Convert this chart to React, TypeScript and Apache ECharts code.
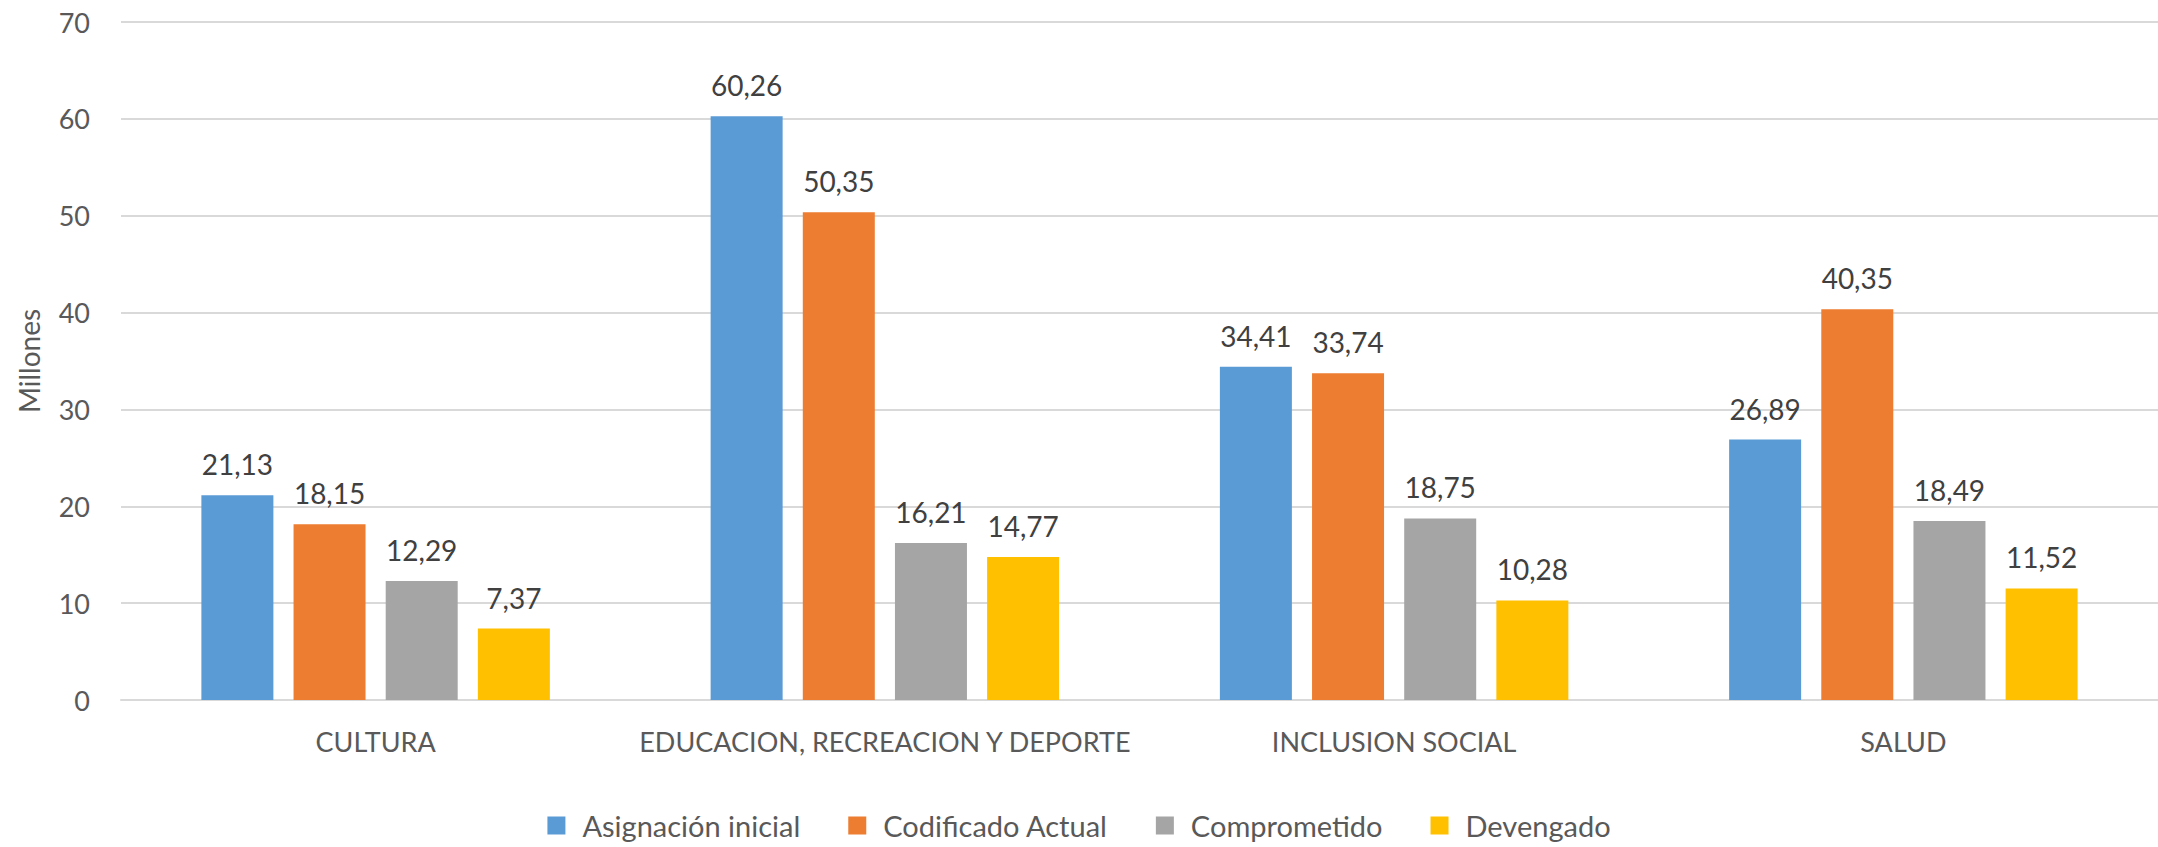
import React, { useEffect, useRef } from "react";
import * as echarts from "echarts";

const categories = ["CULTURA", "EDUCACION, RECREACION Y DEPORTE", "INCLUSION SOCIAL", "SALUD"];
const seriesNames = ["Asignación inicial", "Codificado Actual", "Comprometido", "Devengado"];
const asignacion = [21.13, 60.26, 34.41, 26.89];
const codificado = [18.15, 50.35, 33.74, 40.35];
const comprometido = [12.29, 16.21, 18.75, 18.49];
const devengado = [7.37, 14.77, 10.28, 11.52];
const colors = ["#5B9BD5", "#ED7D31", "#A5A5A5", "#FFC000"];

const FONT = "Lato";

export default function App() {
  const ref = useRef<HTMLDivElement>(null);
  useEffect(() => {
    document.body.style.margin = "0";
    if (!ref.current) return;
    const chart = echarts.init(ref.current, null, { renderer: "svg" });
    const values = [asignacion, codificado, comprometido, devengado];
    chart.setOption({
      animation: false,
      textStyle: { fontFamily: FONT },
      grid: { left: 121, right: 0, top: 22, bottom: 147, containLabel: false },
      legend: {
        data: seriesNames,
        top: 811,
        left: "center",
        padding: 0,
        itemWidth: 18,
        itemHeight: 18,
        itemGap: 48,
        icon: "rect",
        textStyle: { fontFamily: FONT, fontSize: 29, lineHeight: 28, color: "#595959", padding: [0, 0, 0, 12] },
      },
      xAxis: {
        type: "category",
        data: categories,
        axisLine: { show: true, lineStyle: { color: "#D9D9D9", width: 2 } },
        axisTick: { show: false },
        axisLabel: { fontFamily: FONT, fontSize: 27, color: "#595959", margin: 28, interval: 0 },
      },
      yAxis: {
        type: "value",
        min: 0,
        max: 70,
        interval: 10,
        name: "Millones",
        nameLocation: "middle",
        nameGap: 78,
        nameTextStyle: { fontFamily: FONT, fontSize: 28, color: "#595959" },
        axisLine: { show: false },
        axisTick: { show: false },
        splitLine: { lineStyle: { color: "#D9D9D9", width: 2 } },
        axisLabel: { fontFamily: FONT, fontSize: 27, color: "#595959", margin: 31 },
      },
      series: seriesNames.map((name, i) => ({
        name,
        type: "bar",
        data: values[i],
        barWidth: 72,
        barGap: "28%",
        itemStyle: { color: colors[i] },
        label: {
          show: true,
          position: "top",
          distance: 17,
          fontFamily: FONT,
          fontSize: 28,
          color: "#404040",
          formatter: (p: any) => p.value.toFixed(2).replace(".", ","),
        },
      })),
    });
    return () => chart.dispose();
  }, []);
  return <div ref={ref} style={{ width: 2158, height: 847 }} />;
}
